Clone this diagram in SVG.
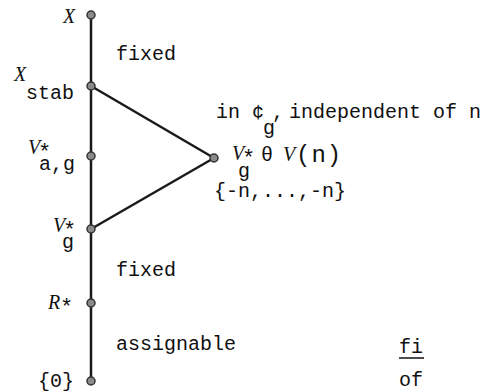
<svg xmlns="http://www.w3.org/2000/svg" width="483" height="392" viewBox="0 0 483 392">
<style>
.t{font-family:"Liberation Mono","Courier New",monospace;font-size:20px;fill:#111}
.s{font-family:"Liberation Mono","Courier New",monospace;font-size:22px;fill:#111}
.i{font-family:"Liberation Serif","Times New Roman",serif;font-style:italic;font-size:20px;fill:#111}
.dot{fill:#8a8a8a;stroke:#333;stroke-width:1.5}
.ln{stroke:#1a1a1a;stroke-width:2.5;fill:none}
</style>
<rect width="483" height="392" fill="#fff"/>
<g id="connectors">
<line class="ln" x1="91" y1="15" x2="91" y2="381"/>
<line class="ln" x1="91" y1="86" x2="214" y2="158"/>
<line class="ln" x1="91" y1="229" x2="214" y2="158"/>
</g>
<g id="node-X"><circle class="dot" cx="91" cy="15" r="4"/><text class="i" x="63" y="23">X</text></g>
<g id="node-Xstab"><circle class="dot" cx="91" cy="86" r="4"/><text class="i" x="14" y="81">X</text><text class="t" x="26" y="99">stab</text></g>
<g id="node-Vag"><circle class="dot" cx="91" cy="156" r="4"/><text class="i" x="28" y="154">V</text><text class="s" x="38" y="159">*</text><text class="t" x="39" y="170">a,g</text></g>
<g id="node-apex"><circle class="dot" cx="214" cy="158" r="4"/><text class="i" x="232" y="160">V</text><text class="s" x="242" y="165">*</text><text class="t" x="238" y="177">g</text><text class="t" x="261" y="161">θ</text><text class="i" x="283" y="161">V</text><text x="296" y="162" font-family="Liberation Mono, monospace" font-size="24" letter-spacing="1" fill="#111">(n)</text></g>
<g id="node-Vg"><circle class="dot" cx="91" cy="229" r="4"/><text class="i" x="53" y="232">V</text><text class="s" x="63" y="237">*</text><text class="t" x="62" y="248">g</text></g>
<g id="node-R"><circle class="dot" cx="91" cy="303" r="4"/><text class="i" x="48" y="309">R</text><text class="s" x="60" y="314">*</text></g>
<g id="node-0"><circle class="dot" cx="91" cy="381" r="4"/><text class="t" x="38" y="387">{0}</text></g>
<g id="labels">
<text class="t" x="116" y="60">fixed</text>
<text class="t" x="216" y="118">in ¢</text>
<text class="t" x="263" y="134">g</text>
<text class="t" x="272" y="118">,</text>
<text class="t" x="289" y="118">independent of n</text>
<text class="t" x="214" y="197">{-n,...,-n}</text>
<text class="t" x="116" y="276">fixed</text>
<text class="t" x="116" y="350">assignable</text>
<text class="t" x="399" y="353">fi</text>
<line x1="399" y1="358" x2="424" y2="358" stroke="#111" stroke-width="1.5"/>
<text class="t" x="399" y="386">of</text>
</g>
</svg>
